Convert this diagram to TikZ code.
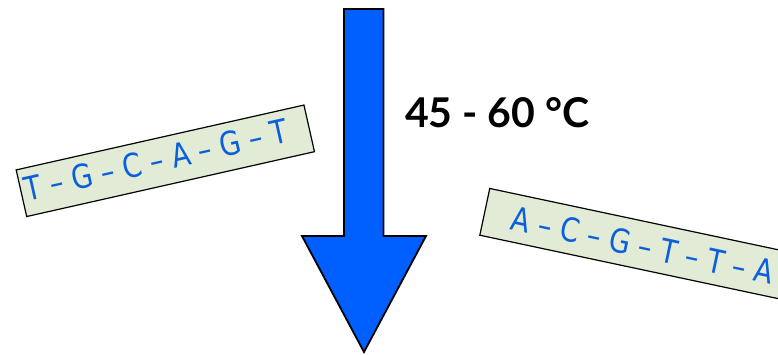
\documentclass[tikz,border=0pt]{standalone}
\usepackage{fontspec}
\newfontfamily\labelfont{Lato}
\newfontfamily\dnafont[FakeStretch=0.83]{DejaVu Sans}
\definecolor{boxfill}{HTML}{E1EBD5}
\definecolor{dnablue}{HTML}{0A5FDC}
\definecolor{arrowblue}{HTML}{005FFF}
\begin{document}
\begin{tikzpicture}[x=1pt,y=-1pt,
  strand/.style={draw=black, line width=1.2pt, fill=boxfill, text=dnablue,
    font=\dnafont\fontsize{33}{33}\selectfont, inner ysep=0pt, minimum height=47.8pt,
    anchor=west},
  templabel/.style={font=\labelfont\bfseries\fontsize{41}{41}\selectfont, inner sep=0pt}]
\useasboundingbox (0,0) rectangle (778,354);
% arrow
\draw[line width=1.8pt, fill=arrowblue, line join=miter]
  (344,9) -- (383.5,9) -- (383.5,236) -- (426,236) -- (364,352) -- (302,236) -- (344,236) -- cycle;
\node[templabel, anchor=base west] (temp) at (405,127) {45 - 60 °C};
% strands
\node[strand, rotate=12.7, inner xsep=4pt, text depth=6pt] (left) at (20.85,193.35)
  {\makebox[287pt][l]{T – G – C – A – G – T}};
\node[strand, rotate=-12, inner xsep=28pt] (right) at (484.2,211.7)
  {\makebox[300pt][l]{A – C – G – T – T – A}};
\end{tikzpicture}
\end{document}
